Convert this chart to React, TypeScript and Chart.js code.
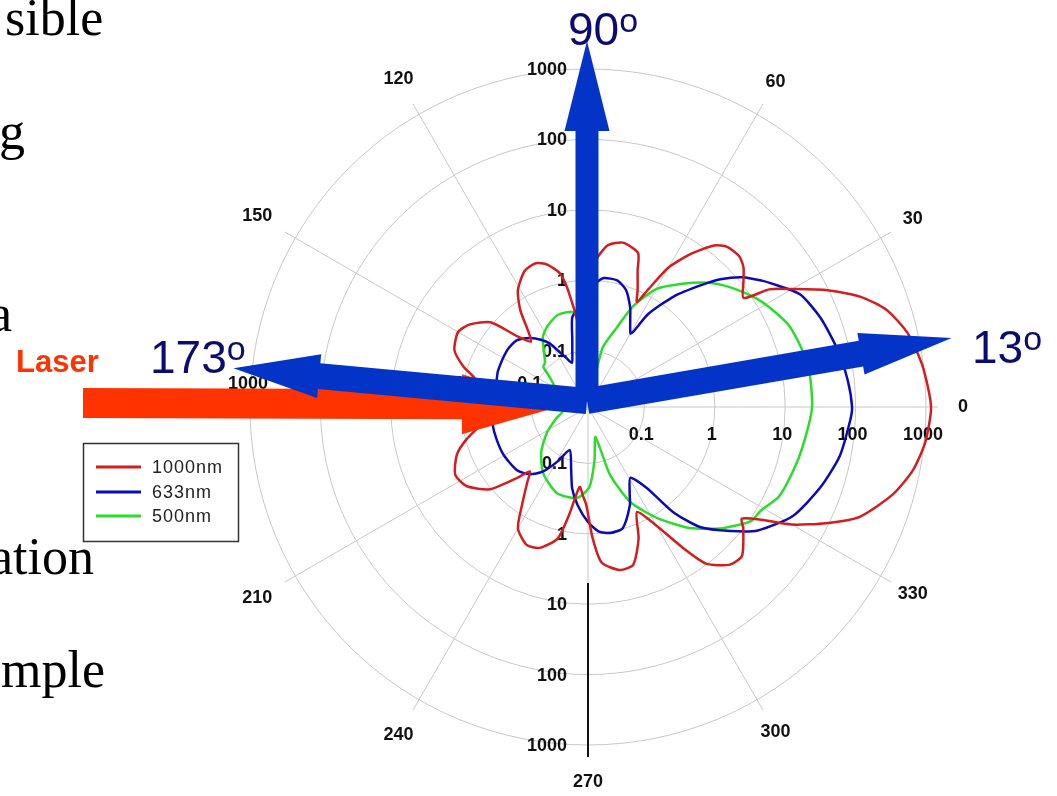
import React, { useEffect, useRef } from 'react';
import { Chart, registerables } from 'chart.js';

Chart.register(...registerables);

// ---- data (angle in degrees, intensity on a log scale) ----
const seriesNames = ['1000nm', '633nm', '500nm'];

const redAngles = [0, 7, 13, 18, 22, 26, 30, 33, 35, 39, 42, 45, 49, 52, 56, 60, 63, 65, 67, 70, 72, 78, 83, 87, 90, 93, 96, 98, 100, 102, 106, 110, 115, 121, 125, 128, 131, 135, 139, 145, 150, 157, 162, 165, 170, 175, 180, 185, 190, 195, 200, 207, 213, 220, 225, 228, 231, 236, 240, 246, 251, 257, 260, 264, 267, 269, 272, 275, 281, 286, 291, 295, 300, 304, 307, 312, 316, 322, 324, 327, 330, 334, 338, 344, 349, 354];
const redValues = [1180, 970, 723, 457, 238, 96.6, 35.6, 18.5, 7.9, 11.0, 14.8, 17.1, 16.3, 12.9, 6.7, 3.07, 1.15, 0.70, 1.01, 1.82, 3.17, 3.86, 3.27, 1.94, 0.95, 0.42, 0.22, 0.39, 0.86, 1.40, 2.01, 2.36, 2.14, 1.36, 0.75, 0.39, 0.27, 0.42, 1.08, 1.76, 2.14, 1.82, 1.15, 0.78, 0.54, 0.39, 0.33, 0.39, 0.58, 0.98, 1.52, 2.07, 1.82, 1.04, 0.42, 0.27, 0.37, 0.75, 1.55, 2.21, 2.07, 1.31, 0.58, 0.22, 0.30, 0.39, 1.15, 2.61, 3.61, 3.39, 1.60, 0.70, 1.40, 4.12, 9.64, 16.3, 17.4, 9.96, 7.9, 13.8, 34.5, 92.0, 230, 505, 798, 1036];

const blueAngles = [0, 6, 13, 21, 28, 34, 36, 40, 44, 47, 52, 57, 59, 60, 64, 67, 72, 77, 83, 86, 90, 96, 100, 103, 106, 110, 114, 117, 121, 125, 130, 137, 145, 158, 165, 172, 180, 190, 200, 210, 222, 229, 235, 241, 247, 255, 259, 264, 270, 275, 280, 286, 293, 296, 301, 306, 309, 313, 319, 324, 332, 341, 349, 357];
const blueValues = [89.1, 80.7, 68.5, 54.5, 40.6, 21.8, 17.9, 11.7, 6.5, 3.73, 1.60, 0.60, 0.28, 0.255, 0.37, 0.54, 0.885, 1.11, 1.11, 0.946, 0.728, 0.40, 0.31, 0.156, 0.102, 0.0738, 0.0927, 0.116, 0.178, 0.232, 0.301, 0.385, 0.40, 0.378, 0.354, 0.366, 0.366, 0.378, 0.378, 0.378, 0.354, 0.291, 0.210, 0.120, 0.0728, 0.133, 0.239, 0.40, 0.682, 0.946, 1.04, 0.977, 0.525, 0.354, 0.235, 0.417, 1.31, 3.39, 7.67, 15.2, 31.3, 49.4, 69.6, 84.6];

const greenAngles = [0, 8, 15, 22, 28, 33, 40, 46, 53, 60, 66, 70, 76, 77, 79, 83, 89, 99, 108, 117, 123, 134, 138, 141, 146, 160, 180, 193, 200, 212, 224, 236, 250, 263, 271, 277, 284, 288, 294, 302, 310, 318, 325, 329, 335, 345, 353];
const greenValues = [24.1, 24.1, 22.2, 19.1, 14.3, 11.0, 6.95, 4.5, 2.44, 1.36, 0.578, 0.255, 0.120, 0.0605, 0.0396, 0.0957, 0.217, 0.366, 0.378, 0.301, 0.239, 0.120, 0.113, 0.084, 0.0626, 0.0423, 0.0336, 0.0384, 0.0482, 0.0774, 0.133, 0.217, 0.315, 0.318, 0.217, 0.0912, 0.0437, 0.164, 0.475, 1.15, 2.78, 5.90, 10.6, 11.5, 15.7, 18.5, 21.1];

const radialTicks = [0.1, 1, 10, 100, 1000];
const angleGrid = [0, 30, 60, 90, 120, 150, 180, 210, 240, 270, 300, 330];
const angleLabels = [0, 30, 60, 120, 150, 210, 240, 270, 300, 330];

// ---- styles ----
const seriesColors = ['#d21e1e', '#0a0ab8', '#2bdc2b'];
const LOG_MIN = -1.8;
const LOG_MAX = 3;
const ARROW_BLUE = '#0433c8';
const ARROW_RED = '#ff3300';
const NAVY = '#0c0c70';

const angleIndex = (deg: number) => (360 - deg) % 360;
const labels = Array.from({ length: 360 }, (_, i) => String((360 - i) % 360));
const buildSeries = (angles: number[], values: number[]) => {
  const arr: (number | null)[] = new Array(360).fill(null);
  angles.forEach((a, k) => {
    arr[angleIndex(a)] = Math.log10(values[k]);
  });
  return arr;
};

function drawArrow(ctx: CanvasRenderingContext2D, ox: number, oy: number, deg: number, len: number, w: number, hl: number, hw: number) {
  const t = (deg * Math.PI) / 180;
  const ux = Math.cos(t);
  const uy = -Math.sin(t);
  const nx = -uy;
  const ny = ux;
  const tx = ox + ux * len;
  const ty = oy + uy * len;
  const bx = tx - ux * hl;
  const by = ty - uy * hl;
  ctx.beginPath();
  ctx.moveTo(ox + (nx * w) / 2, oy + (ny * w) / 2);
  ctx.lineTo(bx + (nx * w) / 2, by + (ny * w) / 2);
  ctx.lineTo(bx + (nx * hw) / 2, by + (ny * hw) / 2);
  ctx.lineTo(tx, ty);
  ctx.lineTo(bx - (nx * hw) / 2, by - (ny * hw) / 2);
  ctx.lineTo(bx - (nx * w) / 2, by - (ny * w) / 2);
  ctx.lineTo(ox - (nx * w) / 2, oy - (ny * w) / 2);
  ctx.closePath();
  ctx.fill();
}

const overlayPlugin = {
  id: 'polarOverlay',
  beforeDatasetsDraw(chart: any) {
    const s = chart.scales.r;
    const ctx: CanvasRenderingContext2D = chart.ctx;
    const xc = s.xCenter;
    const yc = s.yCenter;
    const R = s.drawingArea;
    ctx.save();
    ctx.strokeStyle = '#c8c8c8';
    ctx.lineWidth = 1;
    angleGrid.forEach((a) => {
      const p = s.getPointPosition(angleIndex(a), R + 12);
      ctx.beginPath();
      ctx.moveTo(xc, yc);
      ctx.lineTo(p.x, p.y);
      ctx.stroke();
    });
    ctx.fillStyle = '#111';
    ctx.font = 'bold 18px "Liberation Sans", Arial, sans-serif';
    ctx.textBaseline = 'middle';
    radialTicks.forEach((v) => {
      const d = s.getDistanceFromCenterForValue(Math.log10(v));
      const t = String(v);
      ctx.textAlign = 'right';
      ctx.fillText(t, xc - 21, yc - d + 1);
      ctx.fillText(t, xc - 21, yc + d + 1);
      ctx.textAlign = 'center';
      ctx.fillText(t, xc + d - 3, yc + 28);
      ctx.fillText(t, xc - d - 2, yc - 23);
    });
    ctx.textAlign = 'center';
    angleLabels.forEach((a) => {
      const rad = (a * Math.PI) / 180;
      const extra = 8 * Math.max(0, -Math.cos(rad));
      const p = s.getPointPosition(angleIndex(a), R + 37 + extra);
      ctx.fillText(String(a), p.x, p.y);
    });
    ctx.restore();
  },
  afterDraw(chart: any) {
    const s = chart.scales.r;
    const ctx: CanvasRenderingContext2D = chart.ctx;
    const xc = s.xCenter;
    const yc = s.yCenter;
    const R = s.drawingArea;
    ctx.save();
    // black radial axis segment at 270
    ctx.strokeStyle = '#111';
    ctx.lineWidth = 2;
    ctx.beginPath();
    ctx.moveTo(xc, yc + 176);
    ctx.lineTo(xc, yc + R + 12);
    ctx.stroke();

    // legend box
    ctx.fillStyle = '#fff';
    ctx.fillRect(83, 443, 156, 99);
    ctx.strokeStyle = '#333';
    ctx.lineWidth = 1.5;
    ctx.strokeRect(83.5, 443.5, 155, 98);
    const rows = [467, 492, 516];
    ctx.font = '18px "Liberation Sans", Arial, sans-serif';
    ctx.textAlign = 'left';
    ctx.textBaseline = 'middle';
    seriesNames.forEach((n, i) => {
      ctx.strokeStyle = seriesColors[i];
      ctx.lineWidth = 3;
      ctx.beginPath();
      ctx.moveTo(96, rows[i]);
      ctx.lineTo(141, rows[i]);
      ctx.stroke();
      ctx.fillStyle = '#222';
      (ctx as any).letterSpacing = '1px';
      ctx.fillText(n, 152, rows[i] + 1);
      (ctx as any).letterSpacing = '0px';
    });

    // laser arrow
    ctx.fillStyle = ARROW_RED;
    drawArrow(ctx, 83, 403, -0.2, 483, 30, 104, 60);

    // scattering direction arrows
    ctx.fillStyle = ARROW_BLUE;
    const ox = xc - 1;
    const oy = yc - 6;
    drawArrow(ctx, ox, oy, 90, 360, 23, 90, 45);
    drawArrow(ctx, ox, oy, 174.7, 355, 26, 86, 44);
    drawArrow(ctx, ox, oy, 9.8, 370, 26, 92, 42);
    ctx.restore();
  },
};

const serif = '"Liberation Serif", "Times New Roman", serif';
const sans = '"Liberation Sans", Arial, sans-serif';

const slideWords: { text: string; left: number; base: number }[] = [
  { text: 'sible', left: 5, base: 36 },
  { text: 'g', left: -1, base: 150 },
  { text: 'a', left: -11, base: 332 },
  { text: 'ation', left: -10, base: 575 },
  { text: 'mple', left: 1, base: 688 },
];

const degreeLabels: { num: string; left: number; base: number }[] = [
  { num: '90', left: 568, base: 45 },
  { num: '173', left: 150, base: 373 },
  { num: '13', left: 972, base: 363 },
];

export default function App() {
  const ref = useRef<HTMLCanvasElement>(null);

  useEffect(() => {
    if (!ref.current) return;
    const series = [
      buildSeries(redAngles, redValues),
      buildSeries(blueAngles, blueValues),
      buildSeries(greenAngles, greenValues),
    ];
    const chart = new Chart(ref.current, {
      type: 'radar',
      data: {
        labels,
        datasets: series.map((d, i) => ({
          label: seriesNames[i],
          data: d,
          borderColor: seriesColors[i],
          backgroundColor: 'transparent',
          borderWidth: 2.5,
          pointRadius: 0,
          pointHoverRadius: 0,
          tension: 0.22,
          capBezierPoints: false,
          fill: false,
          spanGaps: true,
          clip: false,
        })) as any,
      },
      options: {
        animation: false,
        responsive: false,
        devicePixelRatio: 1,
        layout: { padding: { left: 250, right: 131, top: 69, bottom: 51 } },
        elements: { line: { capBezierPoints: false } },
        plugins: {
          legend: { display: false },
          tooltip: { enabled: false },
          title: { display: false },
        },
        scales: {
          r: {
            type: 'radialLinear',
            min: LOG_MIN,
            max: LOG_MAX,
            startAngle: 90,
            angleLines: { display: false },
            pointLabels: { display: false },
            ticks: { display: false },
            grid: { circular: true, color: '#c8c8c8', lineWidth: 1 },
            afterBuildTicks: (scale: any) => {
              scale.ticks = [{ value: LOG_MIN }, ...radialTicks.map((v) => ({ value: Math.log10(v) }))];
            },
          },
        },
      } as any,
      plugins: [overlayPlugin],
    });
    return () => chart.destroy();
  }, []);

  return (
    <div style={{ position: 'absolute', left: 0, top: 0, width: 1057, height: 796, overflow: 'hidden', background: '#fff' }}>
      <canvas ref={ref} width={1057} height={796} style={{ position: 'absolute', left: 0, top: 0 }} />
      {slideWords.map((w) => (
        <div
          key={w.text}
          style={{ position: 'absolute', left: w.left, top: w.base - 0.8375 * 52, font: `52px ${serif}`, lineHeight: 1, color: '#000', whiteSpace: 'nowrap' }}
        >
          {w.text}
        </div>
      ))}
      <div
        style={{ position: 'absolute', left: 16, top: 372 - 0.8465 * 31, font: `bold 31px ${sans}`, lineHeight: 1, color: ARROW_RED, whiteSpace: 'nowrap' }}
      >
        Laser
      </div>
      {degreeLabels.map((d) => (
        <div
          key={d.num}
          style={{ position: 'absolute', left: d.left, top: d.base - 0.8465 * 46, font: `46px ${sans}`, lineHeight: 1, color: NAVY, whiteSpace: 'nowrap' }}
        >
          {d.num}
          <span style={{ fontSize: 34, position: 'relative', top: -13 }}>o</span>
        </div>
      ))}
    </div>
  );
}
